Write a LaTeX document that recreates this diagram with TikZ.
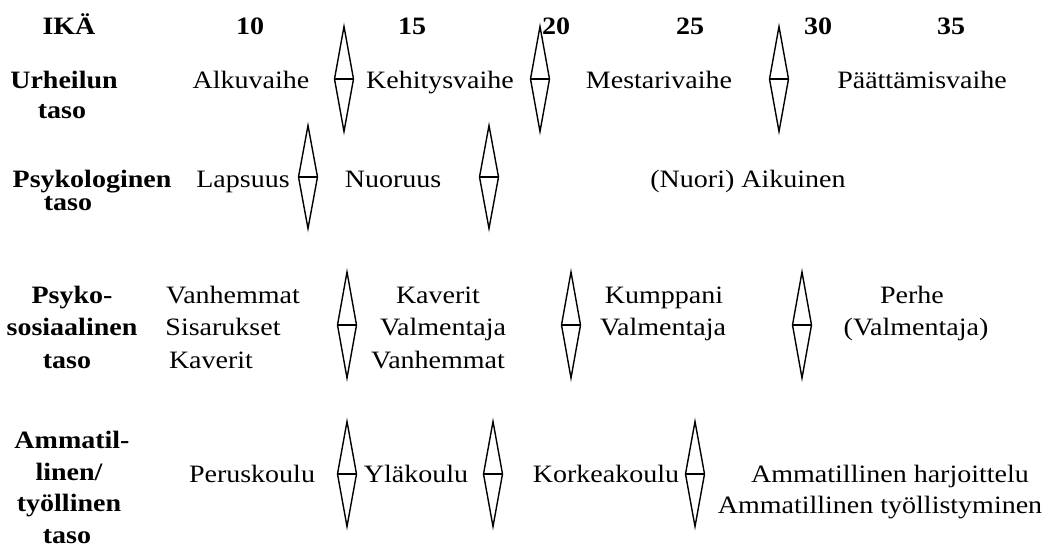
\documentclass[tikz,border=0pt]{standalone}
\usepackage{fontspec}
\setmainfont{Liberation Serif}[FakeStretch=1.12]
\usetikzlibrary{shapes.geometric}
\begin{document}
\begin{tikzpicture}[x=1pt,y=-1pt,
  txt/.style={anchor=base, inner sep=0pt, font=\fontsize{25}{30}\selectfont},
  head/.style={anchor=base, inner sep=0pt, font=\fontsize{25}{30}\selectfont\bfseries},
  gate/.style={diamond, draw, line width=1.4pt, inner sep=0pt, outer sep=0pt,
               minimum width=19pt, minimum height=105pt},
  mid/.style={line width=2pt}]
\useasboundingbox (0,0) rectangle (1054,547);

% age scale
\node[head] (ika) at (69,34) {IKÄ};
\node[head] (a10) at (250,34) {10};
\node[head] (a15) at (412,34) {15};
\node[head] (a20) at (556,34) {20};
\node[head] (a25) at (690,34) {25};
\node[head] (a30) at (818,34) {30};
\node[head] (a35) at (951,34) {35};

% sport level
\node[head] (u1) at (64,88) {Urheilun};
\node[head] (u2) at (62,118) {taso};
\node[txt] (alku) at (251,88) {Alkuvaihe};
\node[txt] (keh) at (440,88) {Kehitysvaihe};
\node[txt] (mest) at (659,88) {Mestarivaihe};
\node[txt] (paat) at (922,88) {Päättämisvaihe};
\node[gate] (g11) at (344,79) {};
\node[gate] (g12) at (540,79) {};
\node[gate] (g13) at (779,79) {};

% psychological level
\node[head] (p1) at (92,187) {Psykologinen};
\node[head] (p2) at (68,210) {taso};
\node[txt] (laps) at (243,187) {Lapsuus};
\node[txt] (nuor) at (393,187) {Nuoruus};
\node[txt] (aik) at (748,187) {(Nuori) Aikuinen};
\node[gate, minimum height=103pt] (g21) at (308,177) {};
\node[gate, minimum height=103pt] (g22) at (489,177) {};

% psychosocial level
\node[head] (s1) at (72,303) {Psyko-};
\node[head] (s2) at (72,335) {sosiaalinen};
\node[head] (s3) at (67,368) {taso};
\node[txt] (v1) at (233,303) {Vanhemmat};
\node[txt] (v2) at (223,335) {Sisarukset};
\node[txt] (v3) at (211,368) {Kaverit};
\node[txt] (k1) at (438,303) {Kaverit};
\node[txt] (k2) at (443,335) {Valmentaja};
\node[txt] (k3) at (438,368) {Vanhemmat};
\node[txt] (m1) at (664,303) {Kumppani};
\node[txt] (m2) at (663,335) {Valmentaja};
\node[txt] (f1) at (912,303) {Perhe};
\node[txt] (f2) at (916,335) {(Valmentaja)};
\node[gate, minimum height=106pt] (g31) at (347,325) {};
\node[gate, minimum height=106pt] (g32) at (571,325) {};
\node[gate, minimum height=106pt] (g33) at (802,325) {};

% vocational level
\node[head] (t1) at (72,448) {Ammatil-};
\node[head] (t2) at (69,480) {linen/};
\node[head] (t3) at (69,511) {työllinen};
\node[head] (t4) at (67,543) {taso};
\node[txt] (per) at (252,482) {Peruskoulu};
\node[txt] (yla) at (416,482) {Yläkoulu};
\node[txt] (kor) at (606,482) {Korkeakoulu};
\node[txt] (har) at (890,482) {Ammatillinen harjoittelu};
\node[txt] (tyo) at (880,513) {Ammatillinen työllistyminen};
\node[gate] (g41) at (347,474) {};
\node[gate] (g42) at (493,474) {};
\node[gate] (g43) at (695,474) {};

% cross bars of the transition markers
\foreach \g in {g11,g12,g13,g21,g22,g31,g32,g33,g41,g42,g43}
  \draw[mid] (\g.west) -- (\g.east);
\end{tikzpicture}
\end{document}
